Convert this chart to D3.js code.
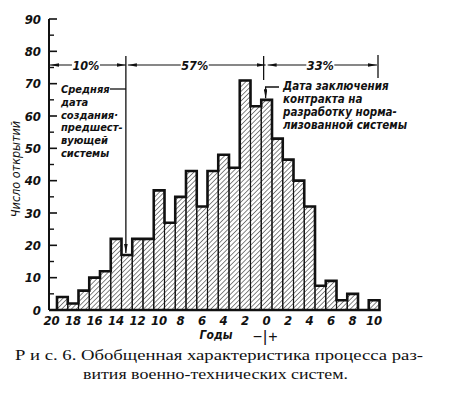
<!DOCTYPE html>
<html>
<head>
<meta charset="utf-8">
<script src="https://cdn.jsdelivr.net/npm/d3@7"></script>
<style>
  body { margin: 0; background: #fff; }
  svg { display: block; }
  .lbl { font-family: "Liberation Sans Narrow", "DejaVu Sans Condensed", "Liberation Sans", sans-serif;
         font-stretch: condensed; font-style: italic; font-weight: bold; fill: #111; }
  .note { font-family: "Liberation Sans Narrow", "DejaVu Sans Condensed", "Liberation Sans", sans-serif;
          font-stretch: condensed; font-style: italic; fill: #111; }
  .cap { font-family: "Liberation Serif", "DejaVu Serif", serif; fill: #111; }
</style>
</head>
<body>
<svg id="chart" width="455" height="397"></svg>
<script>
// years relative to the contract date (negative = before)
const years = d3.range(-20, 11);
// number of discoveries per year
const counts = [0, 4, 2, 6, 10, 12, 22, 17, 22, 22,
                37, 27, 35, 43, 32, 43, 48, 44, 71, 63,
                65, 53, 46.5, 40, 32, 7.5, 9, 3, 5, 0, 3];
const yTicks = [0, 10, 20, 30, 40, 50, 60, 70, 80, 90];
const xTickYears = [-20, -18, -16, -14, -12, -10, -8, -6, -4, -2, 0, 2, 4, 6, 8, 10];
// top dimension line: segments and their shares
const splitYears = [-13, 0];
const shares = ["10%", "57%", "33%"];
const leftNote = ["Средняя", "дата", "создания·", "предшест-", "вующей", "системы"];
const rightNote = ["Дата заключения", "контракта на", "разработку норма-", "лизованной системы"];
const caption = ["Р и с. 6. Обобщенная характеристика процесса раз-",
                 "вития военно-технических систем."];

const data = years.map((y, i) => ({year: y, n: counts[i]}));

const svg = d3.select("#chart");

const x = d3.scaleBand()
    .domain(years)
    .range([46.25, 379.5])
    .padding(0);
const y = d3.scaleLinear()
    .domain([0, 90])
    .range([310, 19]);
const bw = x.bandwidth();
const cx = yr => x(yr) + bw / 2;
const axisX = 49;

// hatch pattern
const defs = svg.append("defs");
defs.append("pattern")
    .attr("id", "hatch")
    .attr("patternUnits", "userSpaceOnUse")
    .attr("width", 3.4).attr("height", 3.4)
    .attr("patternTransform", "rotate(45)")
    .append("line")
    .attr("x1", 0).attr("y1", 0).attr("x2", 0).attr("y2", 3.4)
    .attr("stroke", "#222").attr("stroke-width", 1.1);

const marker = (id, orient) => defs.append("marker")
    .attr("id", id)
    .attr("viewBox", "0 0 10 4")
    .attr("refX", 10).attr("refY", 2)
    .attr("markerWidth", 9).attr("markerHeight", 3.6)
    .attr("markerUnits", "userSpaceOnUse")
    .attr("orient", orient)
    .append("path").attr("d", "M0,0 L10,2 L0,4 Z").attr("fill", "#111");
marker("arr", "auto");
marker("arrS", "auto-start-reverse");

// bars
svg.append("g")
  .selectAll("rect")
  .data(data.filter(d => d.n > 0))
  .join("rect")
    .attr("x", d => x(d.year))
    .attr("y", d => y(d.n))
    .attr("width", bw)
    .attr("height", d => y(0) - y(d.n))
    .attr("fill", "url(#hatch)")
    .attr("stroke", "#111")
    .attr("stroke-width", 1.1);

// thick histogram outline
const stepPts = [];
data.forEach(d => {
  stepPts.push([x(d.year), y(d.n)]);
  stepPts.push([x(d.year) + bw, y(d.n)]);
});
svg.append("path")
    .attr("d", d3.line()([[axisX, y(0)], ...stepPts.filter(p => p[0] >= axisX), [x(10) + bw, y(0)], [axisX, y(0)]]))
    .attr("fill", "none")
    .attr("stroke", "#111")
    .attr("stroke-width", 2.6)
    .attr("stroke-linejoin", "miter");

// y axis with ticks pointing inward
const yAxis = svg.append("g");
yAxis.append("line")
    .attr("x1", axisX).attr("x2", axisX)
    .attr("y1", y(0)).attr("y2", y(90))
    .attr("stroke", "#111").attr("stroke-width", 2);
yAxis.selectAll("line.major")
  .data(yTicks)
  .join("line").attr("class", "major")
    .attr("x1", axisX).attr("x2", axisX + 8)
    .attr("y1", d => y(d)).attr("y2", d => y(d))
    .attr("stroke", "#111").attr("stroke-width", 1.6);
yAxis.selectAll("line.minor")
  .data(yTicks.slice(0, -1).map(t => t + 5))
  .join("line").attr("class", "minor")
    .attr("x1", axisX).attr("x2", axisX + 5)
    .attr("y1", d => y(d)).attr("y2", d => y(d))
    .attr("stroke", "#111").attr("stroke-width", 1.4);
yAxis.selectAll("text")
  .data(yTicks)
  .join("text").attr("class", "lbl")
    .attr("x", axisX - 8)
    .attr("y", d => y(d) + 4.5)
    .attr("text-anchor", "end")
    .attr("font-size", 13)
    .text(d => d);

// x tick labels (absolute years)
svg.append("g")
  .selectAll("text")
  .data(xTickYears)
  .join("text").attr("class", "lbl")
    .attr("x", d => cx(d))
    .attr("y", 325)
    .attr("text-anchor", "middle")
    .attr("font-size", 13)
    .text(d => Math.abs(d));

svg.append("text").attr("class", "lbl")
    .attr("x", 216).attr("y", 339)
    .attr("text-anchor", "middle")
    .attr("font-size", 12)
    .text("Годы");
svg.append("text")
    .attr("x", cx(0) - 1).attr("y", 342)
    .attr("text-anchor", "middle")
    .attr("font-family", "Liberation Sans, sans-serif")
    .attr("font-size", 16)
    .attr("letter-spacing", 1)
    .attr("fill", "#111")
    .text("−|+");

// y axis title
svg.append("text").attr("class", "note")
    .attr("transform", "translate(20,169) rotate(-90)")
    .attr("text-anchor", "middle")
    .attr("font-size", 12.5)
    .text("Число открытий");

// top dimension line
const dimY = 65;
const bounds = [axisX, ...splitYears.map(cx), x(10) + bw - 1.5];
const dim = svg.append("g");
for (let i = 0; i < shares.length; i++) {
  const a = bounds[i] + 1, b = bounds[i + 1] - 1;
  dim.append("line")
      .attr("x1", a).attr("x2", b)
      .attr("y1", dimY).attr("y2", dimY)
      .attr("stroke", "#111").attr("stroke-width", 1.2)
      .attr("marker-start", "url(#arrS)")
      .attr("marker-end", "url(#arr)");
  const mid = (a + b) / 2 - 2;
  dim.append("rect")
      .attr("x", mid - 14).attr("y", dimY - 7)
      .attr("width", 28).attr("height", 14)
      .attr("fill", "#fff");
  dim.append("text").attr("class", "note")
      .attr("x", mid).attr("y", dimY + 4.5)
      .attr("text-anchor", "middle")
      .attr("font-size", 12.5)
      .attr("font-weight", "bold")
      .text(shares[i]);
}
// vertical separators
dim.append("line")
    .attr("x1", cx(0) - 3).attr("x2", cx(0) - 3)
    .attr("y1", 56).attr("y2", 80)
    .attr("stroke", "#111").attr("stroke-width", 1.3);
dim.append("line")
    .attr("x1", bounds[3]).attr("x2", bounds[3])
    .attr("y1", 55).attr("y2", 78)
    .attr("stroke", "#111").attr("stroke-width", 1.3);

// left annotation: previous system date -> bar at year -13
const lx = cx(-13) - 1;
svg.append("path")
    .attr("d", `M${lx},56 L${lx},${y(counts[years.indexOf(-13)]) - 2}`)
    .attr("fill", "none")
    .attr("stroke", "#111").attr("stroke-width", 1.3)
    .attr("marker-end", "url(#arr)");
svg.append("line")
    .attr("x1", 110).attr("x2", lx)
    .attr("y1", 89).attr("y2", 89)
    .attr("stroke", "#111").attr("stroke-width", 1.3);
svg.append("g")
  .selectAll("text")
  .data(leftNote)
  .join("text").attr("class", "note")
    .attr("x", 61)
    .attr("y", (d, i) => 93 + i * 12.8)
    .attr("font-size", 11)
    .attr("font-weight", "bold")
    .text(d => d);

// right annotation: contract date -> bar at year 0
const rx = cx(0) - 1;
svg.append("path")
    .attr("d", `M279,87 L${rx},87 L${rx},${y(counts[years.indexOf(0)]) - 1.5}`)
    .attr("fill", "none")
    .attr("stroke", "#111").attr("stroke-width", 1.3)
    .attr("marker-end", "url(#arr)");
svg.append("g")
  .selectAll("text")
  .data(rightNote)
  .join("text").attr("class", "note")
    .attr("x", 283)
    .attr("y", (d, i) => 90 + i * 13)
    .attr("font-size", 11.5)
    .attr("font-weight", "bold")
    .text(d => d);

// caption
svg.append("text").attr("class", "cap")
    .attr("x", 15).attr("y", 360)
    .attr("font-size", 15.5)
    .attr("textLength", 408)
    .attr("lengthAdjust", "spacingAndGlyphs")
    .text(caption[0]);
svg.append("text").attr("class", "cap")
    .attr("x", 83).attr("y", 379)
    .attr("font-size", 15.5)
    .attr("textLength", 265)
    .attr("lengthAdjust", "spacingAndGlyphs")
    .text(caption[1]);
</script>
</body>
</html>
